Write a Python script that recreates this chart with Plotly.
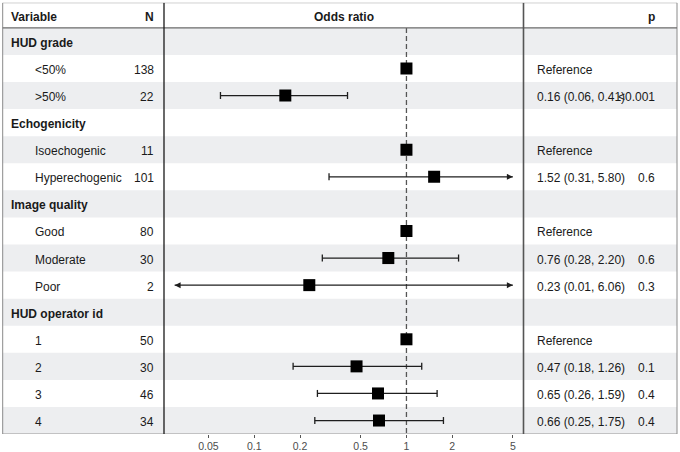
import math
import plotly.graph_objects as go

# ---------------- data ----------------
labels = ["HUD grade", "<50%", ">50%", "Echogenicity", "Isoechogenic", "Hyperechogenic",
          "Image quality", "Good", "Moderate", "Poor", "HUD operator id", "1", "2", "3", "4"]
is_group = [True, False, False, True, False, False, True, False, False, False, True,
            False, False, False, False]
n_vals = ["", "138", "22", "", "11", "101", "", "80", "30", "2", "", "50", "30", "46", "34"]
est = [None, 1, 0.16, None, 1, 1.52, None, 1, 0.76, 0.23, None, 1, 0.47, 0.65, 0.66]
ci_lo = [None, None, 0.06, None, None, 0.31, None, None, 0.28, 0.01, None, None, 0.18, 0.26, 0.25]
ci_hi = [None, None, 0.41, None, None, 5.80, None, None, 2.20, 6.06, None, None, 1.26, 1.59, 1.75]
p_vals = ["", "", "<0.001", "", "", "0.6", "", "", "0.6", "0.3", "", "", "0.1", "0.4", "0.4"]
tick_vals = [0.05, 0.1, 0.2, 0.5, 1, 2, 5]
tick_text = ["0.05", "0.1", "0.2", "0.5", "1", "2", "5"]
xlim = [0.03, 5]

# ---------------- layout geometry ----------------
W, H = 680, 452
top_px, bottom_px = 2.7, 436.0
left_px, right_px = 2.7, 677.0
panel_l, panel_r = 164.0, 523.5
nrows = len(labels)
row_h = 27.2
header_h = (bottom_px - top_px) / row_h - nrows  # in row units
y_top = -0.5 - header_h
y_bot = nrows - 0.5

FONT = "Liberation Sans, Arial, Helvetica, sans-serif"
TXT = "#1a1a1a"
GREY_BAND = "#EDEEF0"

def px(x):
    return x / W

pad = 0.07
xrange_log = [math.log10(xlim[0]) - pad, math.log10(xlim[1]) + pad]

fig = go.Figure()

# dashed reference line at 1
fig.add_trace(go.Scatter(x=[1, 1], y=[-0.5, y_bot], mode="lines",
                         line=dict(color="#555555", width=1.3, dash="5px,3px"),
                         hoverinfo="skip", showlegend=False))

# CI lines, caps and arrows
seg_x, seg_y = [], []
cap_x, cap_y = [], []
arrL_x, arrL_y, arrR_x, arrR_y = [], [], [], []
for i in range(nrows):
    if ci_lo[i] is None:
        continue
    lo = max(ci_lo[i], xlim[0])
    hi = min(ci_hi[i], xlim[1])
    seg_x += [lo, hi, None]
    seg_y += [i, i, None]
    if ci_lo[i] < xlim[0]:
        arrL_x.append(lo); arrL_y.append(i)
    else:
        cap_x.append(lo); cap_y.append(i)
    if ci_hi[i] > xlim[1]:
        arrR_x.append(hi); arrR_y.append(i)
    else:
        cap_x.append(hi); cap_y.append(i)

fig.add_trace(go.Scatter(x=seg_x, y=seg_y, mode="lines",
                         line=dict(color="#1e1e1e", width=1.3),
                         hoverinfo="skip", showlegend=False))
fig.add_trace(go.Scatter(x=cap_x, y=cap_y, mode="markers",
                         marker=dict(symbol="line-ns", size=5,
                                     line=dict(color="#1e1e1e", width=1.3)),
                         hoverinfo="skip", showlegend=False))
fig.add_trace(go.Scatter(x=arrL_x, y=arrL_y, mode="markers",
                         marker=dict(symbol="arrow-left", size=6, color="#1e1e1e",
                                     line=dict(width=0)),
                         hoverinfo="skip", showlegend=False))
fig.add_trace(go.Scatter(x=arrR_x, y=arrR_y, mode="markers",
                         marker=dict(symbol="arrow-right", size=6, color="#1e1e1e",
                                     line=dict(width=0)),
                         hoverinfo="skip", showlegend=False))

# point estimates
pe_x = [e for e in est if e is not None]
pe_y = [i for i, e in enumerate(est) if e is not None]
fig.add_trace(go.Scatter(x=pe_x, y=pe_y, mode="markers",
                         marker=dict(symbol="square", size=12, color="black",
                                     line=dict(width=0)),
                         hoverinfo="skip", showlegend=False))

shapes = []
# row bands
for i in range(nrows):
    if i % 2 == 0:
        shapes.append(dict(type="rect", xref="paper", yref="y",
                           x0=px(left_px), x1=px(right_px), y0=i - 0.5, y1=i + 0.5,
                           fillcolor=GREY_BAND, line=dict(width=0), layer="below"))
# outer frame
shapes.append(dict(type="rect", xref="paper", yref="y",
                   x0=px(left_px), x1=px(right_px), y0=y_top, y1=y_bot,
                   line=dict(color="#8a8a8a", width=1), fillcolor="rgba(0,0,0,0)", layer="above"))
# header line
shapes.append(dict(type="line", xref="paper", yref="y",
                   x0=px(left_px), x1=px(right_px), y0=-0.5, y1=-0.5,
                   line=dict(color="#6a6a6a", width=1.3), layer="above"))
# panel separators
shapes.append(dict(type="line", xref="paper", yref="y",
                   x0=px(panel_l), x1=px(panel_l), y0=y_top, y1=y_bot,
                   line=dict(color="#1a1a1a", width=1.3), layer="above"))
shapes.append(dict(type="line", xref="paper", yref="y",
                   x0=px(panel_r), x1=px(panel_r), y0=y_top, y1=y_bot,
                   line=dict(color="#555555", width=1.6), layer="above"))

ann = []
def add_text(text, x, y, anchor="left", bold=False, size=12, color=TXT):
    ann.append(dict(text=f"<b>{text}</b>" if bold else text, x=px(x), y=y,
                    xref="paper", yref="y", xanchor=anchor, yanchor="middle",
                    yshift=-1.5,
                    showarrow=False, font=dict(family=FONT, size=size, color=color)))

hy = (y_top + -0.5) / 2
add_text("Variable", 9, hy, bold=True)
add_text("N", 156, hy, anchor="right", bold=True)
add_text("Odds ratio", (panel_l + panel_r) / 2, hy, anchor="center", bold=True)
add_text("p", 657, hy, anchor="right", bold=True)

for i in range(nrows):
    if is_group[i]:
        add_text(labels[i], 9, i, bold=True)
    else:
        add_text(labels[i], 33, i)
    if n_vals[i]:
        add_text(n_vals[i], 156, i, anchor="right")
    if est[i] is not None:
        if ci_lo[i] is None:
            t = "Reference"
        else:
            t = f"{est[i]:.2f} ({ci_lo[i]:.2f}, {ci_hi[i]:.2f})"
        add_text(t, 535, i)
    if p_vals[i]:
        add_text(p_vals[i], 657, i, anchor="right")

fig.update_layout(
    width=W, height=H,
    margin=dict(l=0, r=0, t=0, b=0),
    paper_bgcolor="white", plot_bgcolor="rgba(0,0,0,0)",
    shapes=shapes, annotations=ann,
    xaxis=dict(type="log", range=xrange_log, domain=[px(panel_l), px(panel_r)],
               tickvals=tick_vals, ticktext=tick_text, ticks="outside", ticklen=3,
               tickcolor="#555555", tickwidth=1, ticklabelstandoff=-1,
               tickfont=dict(family=FONT, size=10.5, color="#4d4d4d"),
               showgrid=False, zeroline=False, showline=False, fixedrange=True),
    yaxis=dict(range=[y_bot, y_top], domain=[(H - bottom_px) / H, (H - top_px) / H],
               visible=False, showgrid=False, zeroline=False, fixedrange=True),
    showlegend=False,
)

fig.write_html("out.html", config={"displayModeBar": False},
               post_script="document.body.style.margin='0px';document.body.style.padding='0px';")
